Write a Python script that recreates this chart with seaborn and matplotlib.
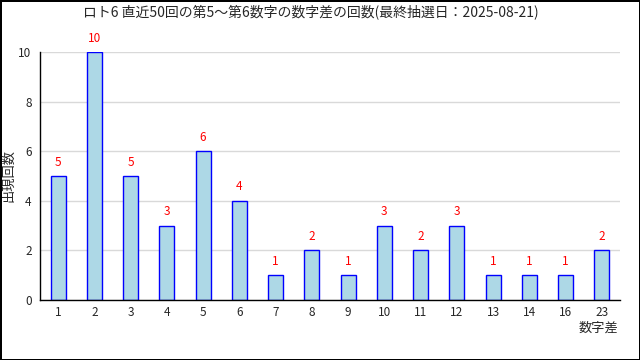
import matplotlib
matplotlib.use("Agg")
import matplotlib.pyplot as plt
import seaborn as sns
import pandas as pd
import numpy as np

categories = ["1", "2", "3", "4", "5", "6", "7", "8", "9", "10", "11", "12", "13", "14", "16", "23"]
counts = [5, 10, 5, 3, 6, 4, 1, 2, 1, 3, 2, 3, 1, 1, 1, 2]
title = "ロト6 直近50回の第5～第6数字の数字差の回数(最終抽選日：2025-08-21)"
xlabel = "数字差"
ylabel = "出現回数"

sns.set_style("white")
plt.rcParams['font.family'] = ['Noto Sans CJK JP', 'DejaVu Sans']

df = pd.DataFrame({"diff": categories, "count": counts})

fig = plt.figure(figsize=(6.4, 3.6), dpi=100)
fig.patch.set_facecolor("white")
fig.patch.set_edgecolor("black")
fig.patch.set_linewidth(2)
ax = fig.add_axes([40/640, 60/360, 580/640, 248/360])

sns.barplot(data=df, x="diff", y="count", order=categories, ax=ax,
            color="lightblue", edgecolor="blue", linewidth=1, width=0.42,
            saturation=1)

for i, v in enumerate(counts):
    ax.text(i, v + 0.3, str(v), ha="center", va="bottom", color="red", fontsize=8.5,
            clip_on=False)

ax.set_xlim(-0.5, len(categories) - 0.5)
ax.set_ylim(0, 10)
ax.set_yticks([0, 2, 4, 6, 8, 10])
ax.yaxis.grid(True, color="#d9d9d9", linewidth=1)
ax.set_axisbelow(True)
for s in ["top", "right"]:
    ax.spines[s].set_visible(False)
for s in ["left", "bottom"]:
    ax.spines[s].set_color("black")
    ax.spines[s].set_linewidth(1)
ax.set_xlabel("")
ax.set_ylabel("")
ax.tick_params(axis="x", which="major", length=0, labelsize=8.5, pad=4)
ax.set_xticks(np.arange(-0.5, len(categories)), minor=True)
ax.tick_params(axis="x", which="minor", direction="in", length=5, width=1, color="black")
ax.tick_params(axis="y", direction="in", length=5, width=1, labelsize=8.5, pad=6, color="black")

fig.text(0.485, 1 - 12/360, title, ha="center", va="center", fontsize=10)
fig.text(598/640, 1 - 328/360, xlabel, ha="center", va="center", fontsize=9.5)
fig.text(9/640, 1 - 175/360, ylabel, ha="center", va="center", rotation=90, fontsize=9.5)

fig.savefig("out.png", dpi=100)
